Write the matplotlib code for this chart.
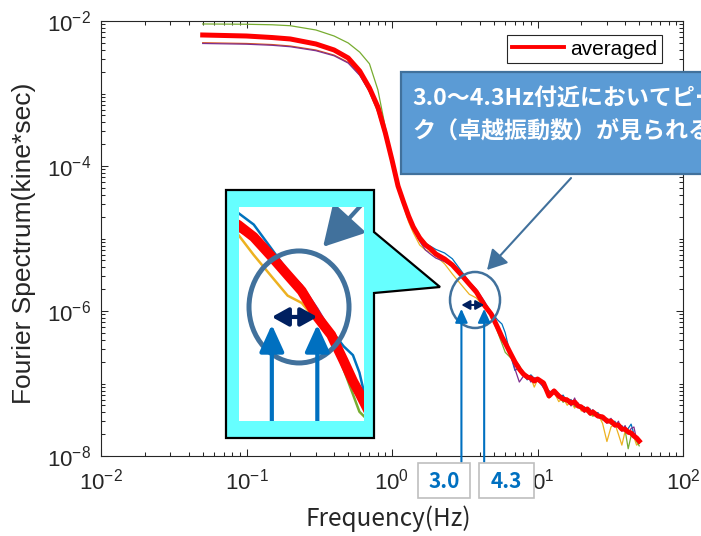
import numpy as np
import matplotlib
matplotlib.use("Agg")
import matplotlib.pyplot as plt
import matplotlib.transforms as mtransforms
from matplotlib.patches import Ellipse, Polygon, Rectangle, FancyArrowPatch
from matplotlib.ticker import FixedLocator, LogLocator, NullFormatter

# ---------------- data ----------------
freq_hz = [0.05, 0.1, 0.15, 0.2, 0.3, 0.4, 0.5, 0.6, 0.7, 0.8,
           0.9, 1.0, 1.1, 1.2, 1.3, 1.4, 1.55, 1.7, 1.85, 2.0,
           2.3, 2.6, 3.0, 3.4, 3.8, 4.3, 4.8, 5.3, 5.7, 6.0,
           6.5, 7.0, 7.5, 8.0, 8.5, 9.0, 9.5, 10, 11, 12,
           13, 14, 15, 16, 17, 18, 19, 20, 21, 22,
           23, 24, 26, 28, 30, 32, 34, 36, 38, 40,
           42, 44, 46, 48, 50]

# log10 of the Fourier amplitude (kine*sec)
avg_log10 = [-2.193, -2.207, -2.228, -2.248, -2.317, -2.400, -2.510, -2.690, -2.924, -3.186,
             -3.545, -3.917, -4.276, -4.497, -4.690, -4.841, -4.993, -5.090, -5.145, -5.214,
             -5.283, -5.366, -5.503, -5.628, -5.738, -5.917, -6.041, -6.221, -6.359, -6.441,
             -6.579, -6.703, -6.800, -6.869, -6.910, -6.924, -6.966, -6.938, -6.993, -7.172,
             -7.103, -7.172, -7.214, -7.228, -7.269, -7.255, -7.310, -7.324, -7.366, -7.352,
             -7.407, -7.393, -7.448, -7.462, -7.517, -7.520, -7.572, -7.575, -7.628, -7.632,
             -7.669, -7.683, -7.724, -7.752, -7.793]

blue_log10 = [-2.190, -2.205, -2.226, -2.247, -2.316, -2.400, -2.510, -2.690, -2.930, -3.200,
              -3.560, -3.960, -4.320, -4.530, -4.710, -4.850, -4.990, -5.070, -5.110, -5.150,
              -5.200, -5.280, -5.450, -5.600, -5.730, -5.900, -6.010, -6.120, -6.180, -6.300,
              -6.600, -6.820, -6.780, -6.880, -6.950, -6.880, -6.930, -6.920, -7.060, -7.100,
              -7.140, -7.200, -7.160, -7.260, -7.220, -7.320, -7.270, -7.360, -7.320, -7.400,
              -7.350, -7.450, -7.400, -7.500, -7.480, -7.560, -7.520, -7.610, -7.580, -7.660,
              -7.620, -7.560, -7.700, -7.760, -7.800]

orange_log10 = [-2.300, -2.310, -2.325, -2.345, -2.400, -2.470, -2.570, -2.740, -2.980, -3.260,
                -3.600, -3.930, -4.270, -4.490, -4.680, -4.830, -4.980, -5.080, -5.130, -5.200,
                -5.270, -5.360, -5.500, -5.620, -5.740, -5.920, -6.050, -6.220, -6.360, -6.450,
                -6.580, -6.700, -6.790, -6.860, -6.890, -6.900, -6.950, -6.930, -7.000, -7.160,
                -7.100, -7.180, -7.220, -7.200, -7.290, -7.240, -7.330, -7.310, -7.380, -7.340,
                -7.420, -7.380, -7.460, -7.450, -7.530, -7.500, -7.590, -7.560, -7.640, -7.620,
                -7.680, -7.670, -7.740, -7.740, -7.800]

yellow_log10 = [-2.200, -2.213, -2.234, -2.255, -2.325, -2.410, -2.520, -2.700, -2.940, -3.200,
                -3.560, -3.940, -4.320, -4.550, -4.770, -4.920, -5.090, -5.160, -5.190, -5.240,
                -5.350, -5.490, -5.640, -5.770, -5.820, -5.950, -6.060, -6.240, -6.380, -6.470,
                -6.600, -6.720, -6.840, -6.900, -6.930, -6.920, -7.050, -6.950, -7.020, -7.200,
                -7.120, -7.250, -7.200, -7.300, -7.250, -7.340, -7.280, -7.380, -7.350, -7.400,
                -7.430, -7.450, -7.420, -7.550, -7.800, -7.600, -7.550, -7.700, -7.850, -7.660,
                -7.660, -7.720, -7.740, -7.850, -7.820]

purple_log10 = [-2.310, -2.320, -2.335, -2.355, -2.410, -2.480, -2.580, -2.750, -2.970, -3.240,
                -3.580, -3.930, -4.280, -4.500, -4.700, -4.860, -5.040, -5.160, -5.220, -5.270,
                -5.320, -5.380, -5.490, -5.600, -5.700, -5.860, -6.020, -6.230, -6.380, -6.460,
                -6.570, -6.800, -6.980, -6.900, -6.880, -6.980, -6.920, -6.960, -7.050, -7.140,
                -7.080, -7.200, -7.190, -7.220, -7.310, -7.200, -7.330, -7.300, -7.400, -7.330,
                -7.440, -7.360, -7.470, -7.440, -7.550, -7.480, -7.600, -7.520, -7.660, -7.580,
                -7.700, -7.620, -7.600, -7.780, -7.820]

green_log10 = [-2.041, -2.045, -2.052, -2.065, -2.124, -2.207, -2.303, -2.430, -2.590, -2.950,
               -3.470, -3.870, -4.240, -4.470, -4.660, -4.810, -4.960, -5.060, -5.120, -5.190,
               -5.270, -5.350, -5.470, -5.600, -5.720, -5.900, -6.060, -6.280, -6.450, -6.570,
               -6.640, -6.680, -6.750, -6.850, -6.920, -6.930, -6.950, -6.960, -6.980, -7.180,
               -7.120, -7.140, -7.260, -7.210, -7.260, -7.300, -7.280, -7.340, -7.330, -7.400,
               -7.370, -7.440, -7.430, -7.500, -7.490, -7.560, -7.540, -7.580, -7.620, -7.640,
               -7.900, -7.720, -7.700, -7.800, -7.860]

peak_freqs = [3.0, 4.3]
x_ticks = [1e-2, 1e-1, 1e0, 1e1, 1e2]
y_ticks = [1e-8, 1e-6, 1e-4, 1e-2]
legend_label = "averaged"
callout_lines = ["3.0～4.3Hz付近においてピー", "ク（卓越振動数）が見られる"]

# ---------------- styling ----------------
plt.rcParams['font.family'] = ['Liberation Sans', 'DejaVu Sans']
plt.rcParams['mathtext.fontset'] = 'custom'
plt.rcParams['mathtext.rm'] = 'Liberation Sans'
CJK = ['Noto Sans CJK JP', 'DejaVu Sans']
AX_COL = '#262626'

W, H = 701, 536
fig = plt.figure(figsize=(W / 100, H / 100), dpi=100)


def px(x, y):
    return (x / W, 1 - y / H)


series = [(blue_log10, '#0072BD'), (orange_log10, '#D95319'), (yellow_log10, '#EDB120'),
          (purple_log10, '#7E2F8E'), (green_log10, '#77AC30')]


def plot_lines(a, s):
    for vals, c in series:
        a.plot(freq_hz, 10 ** np.array(vals), color=c, lw=0.9 * s, zorder=2)
    a.plot(freq_hz, 10 ** np.array(avg_log10), color='#FF0000', lw=3.6 * s,
           label=legend_label, zorder=3, solid_joinstyle='round')


circle_f, circle_a = 3.72, 10 ** -5.848


def draw_marks(a, s, clip):
    arts = []
    e = Ellipse((0, 0), width=50 * s, height=56 * s, fill=False, ec='#41719C', lw=1.8 * s,
                transform=mtransforms.ScaledTranslation(circle_f, circle_a, a.transData),
                zorder=5)
    arts.append(e)
    # arrow from the callout box toward the circle
    arts.append(FancyArrowPatch((17.0, 10 ** -4.166), (4.5, 10 ** -5.434),
                                arrowstyle='-|>,head_length=0.8,head_width=0.45',
                                mutation_scale=15 * s, lw=1.5 * s, color='#41719C',
                                shrinkA=0, shrinkB=0, transform=a.transData, zorder=5))
    # double arrow between the peaks
    arts.append(FancyArrowPatch((peak_freqs[0], 10 ** -5.917), (peak_freqs[1], 10 ** -5.917),
                                arrowstyle='<|-|>,head_length=0.45,head_width=0.25',
                                mutation_scale=11 * s, lw=1.5 * s, color='#002060',
                                shrinkA=0, shrinkB=0, transform=a.transData, zorder=6))
    for f in peak_freqs:
        arts.append(FancyArrowPatch((f, 10 ** -8.08), (f, 10 ** -5.97),
                                    arrowstyle='-|>,head_length=0.55,head_width=0.25',
                                    mutation_scale=15 * s, lw=1.5 * s, color='#0070C0',
                                    shrinkA=0, shrinkB=0, transform=a.transData, zorder=6))
    for art in arts:
        a.add_artist(art)
        if clip:
            art.set_clip_path(a.patch)
        else:
            art.set_clip_on(False)


# ---------------- main axes ----------------
ax = fig.add_axes([101 / W, 1 - 456 / H, 582 / W, 435 / H])
ax.set_xscale('log')
ax.set_yscale('log')
ax.set_xlim(1e-2, 1e2)
ax.set_ylim(1e-8, 1e-2)
plot_lines(ax, 1.0)
draw_marks(ax, 1.0, clip=False)

ax.xaxis.set_major_locator(FixedLocator(x_ticks))
ax.yaxis.set_major_locator(FixedLocator(y_ticks))
ax.xaxis.set_minor_locator(LogLocator(base=10, subs=np.arange(1, 10), numticks=50))
ax.yaxis.set_minor_locator(LogLocator(base=10, subs=np.arange(1, 10), numticks=50))
ax.xaxis.set_minor_formatter(NullFormatter())
ax.yaxis.set_minor_formatter(NullFormatter())
ax.tick_params(which='both', direction='in', top=True, right=True, colors=AX_COL, width=0.75)
ax.tick_params(which='major', length=5, labelsize=16, pad=7)
ax.tick_params(axis='x', which='major', pad=9)
ax.tick_params(which='minor', length=2.8)
for sp in ax.spines.values():
    sp.set_color(AX_COL)
    sp.set_linewidth(0.8)

ax.set_ylabel('Fourier Spectrum(kine*sec)', fontsize=19, color=AX_COL)
ax.yaxis.set_label_coords((36 - 101) / 582, 0.49)
ax.set_xlabel('Frequency(Hz)', fontsize=17.5, color=AX_COL, family=CJK)
ax.xaxis.set_label_coords((388 - 101) / 582, -(505 - 456) / 435)

leg = ax.legend(loc='upper left', bbox_to_anchor=px(507, 35), bbox_transform=fig.transFigure,
                frameon=True, fancybox=False, edgecolor=AX_COL, framealpha=1, fontsize=15,
                handlelength=2.5, handletextpad=0.3, borderpad=0.22, borderaxespad=0)
leg.get_frame().set_linewidth(0.8)
leg.get_lines()[0].set_linewidth(2.8)

# ---------------- magnified callout ----------------
callout = Polygon([px(226, 190), px(374, 190), px(374, 232), px(440, 287), px(374, 293),
                   px(374, 438), px(226, 438)], closed=True, transform=fig.transFigure,
                  facecolor='#66FFFF', edgecolor='black', lw=1.6, zorder=3)
fig.add_artist(callout)

axin = fig.add_axes([239 / W, 1 - 421 / H, 125 / W, 214 / H], zorder=4)
axin.set_xscale('log')
axin.set_yscale('log')
axin.set_xlim(10 ** 0.3643, 10 ** 0.7939)
axin.set_ylim(10 ** -6.634, 10 ** -5.159)
plot_lines(axin, 2.0)
draw_marks(axin, 2.0, clip=True)
axin.set_facecolor('white')
axin.set_xticks([])
axin.set_yticks([])
axin.minorticks_off()
for sp in axin.spines.values():
    sp.set_visible(False)

# ---------------- text callout box (runs past the right edge, as in the reference) ----------------
fig.add_artist(Rectangle(px(401, 174), (720 - 401) / W, (174 - 72) / H, transform=fig.transFigure,
                         facecolor='#5B9BD5', edgecolor='#41719C', lw=1.6, zorder=3))
for i, line in enumerate(callout_lines):
    fig.text(412 / W, 1 - (98 + 34 * i) / H, line, ha='left', va='center', color='white',
             fontsize=16.6, fontweight='bold', family=CJK, zorder=4)

# ---------------- peak frequency labels ----------------
label_boxes = [(418, 52), (479, 55)]
for (bx, bw), f in zip(label_boxes, peak_freqs):
    fig.add_artist(Rectangle(px(bx, 498), bw / W, 35 / H, transform=fig.transFigure,
                             facecolor='white', edgecolor='#BFBFBF', lw=1.2, zorder=3))
    fig.text((bx + bw / 2) / W, 1 - 481 / H, f"{f:.1f}", ha='center', va='center',
             color='#0070C0', fontsize=15, fontweight='bold', family=CJK, zorder=4)

fig.savefig('out.png', dpi=100)
